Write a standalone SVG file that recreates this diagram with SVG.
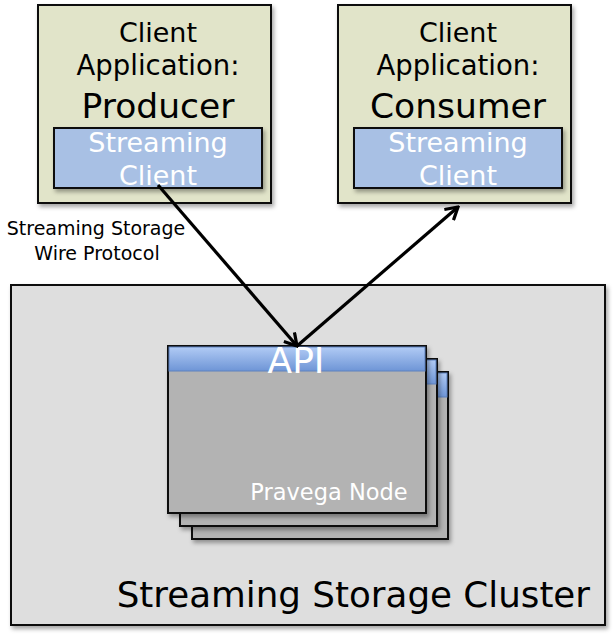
<svg xmlns="http://www.w3.org/2000/svg" width="614" height="637" viewBox="0 0 614 637">
<style>
text{font-family:"DejaVu Sans","Liberation Sans",sans-serif}
.app{fill:#e1e4c9;stroke:#111;stroke-width:2}
.sc{fill:#a8c0e4;stroke:#111;stroke-width:2}
.node{fill:#b3b3b3;stroke:#111;stroke-width:2}
.bar{fill:url(#barg);stroke:#5f82bf;stroke-width:1}
.dark{fill:#000;text-anchor:middle}
.white{fill:#fff;text-anchor:middle}
.conn{stroke:#000;stroke-width:3.2;fill:none;marker-end:url(#arr)}
</style>
<defs>
<linearGradient id="barg" x1="0" y1="0" x2="0" y2="1">
<stop offset="0" stop-color="#b1cbf5"/>
<stop offset="1" stop-color="#6e95d6"/>
</linearGradient>
<filter id="sh" x="-10%" y="-10%" width="130%" height="130%">
<feDropShadow dx="2" dy="3" stdDeviation="2" flood-color="#000" flood-opacity="0.35"/>
</filter>
<marker id="arr" markerUnits="userSpaceOnUse" viewBox="0 0 16 16" refX="14" refY="8" markerWidth="16" markerHeight="16" orient="auto">
<path d="M2,1 L14,8 L2,15" fill="none" stroke="#000" stroke-width="3.2"/>
</marker>
</defs>

<g id="cluster">
<rect x="11" y="285" width="594" height="340" fill="#dedede" stroke="#111" stroke-width="2" filter="url(#sh)"/>
<text x="590" y="607" font-size="35.7" fill="#000" text-anchor="end">Streaming Storage Cluster</text>
</g>

<g id="node3">
<rect class="node" x="192" y="372" width="256" height="167" filter="url(#sh)"/>
<rect class="bar" x="193" y="373" width="254" height="24"/>
</g>
<g id="node2">
<rect class="node" x="180" y="359" width="257" height="167" filter="url(#sh)"/>
<rect class="bar" x="181" y="360" width="255" height="24"/>
</g>
<g id="node1">
<rect class="node" x="168" y="346" width="258" height="167" filter="url(#sh)"/>
<rect class="bar" x="169" y="347" width="256" height="24"/>
<text class="white" x="296" y="373" font-size="36">API</text>
<text class="white" x="329" y="500" font-size="22.5">Pravega Node</text>
</g>

<g id="producer">
<rect class="app" x="38" y="5" width="233" height="198" filter="url(#sh)"/>
<text class="dark" x="158" y="42" font-size="27">Client</text>
<text class="dark" x="158" y="75" font-size="27.5">Application:</text>
<text class="dark" x="158" y="118" font-size="34.5">Producer</text>
<rect class="sc" x="54" y="128" width="208" height="60" filter="url(#sh)"/>
<text class="white" x="158" y="152" font-size="27">Streaming</text>
<text class="white" x="158" y="185" font-size="27">Client</text>
</g>

<g id="consumer">
<rect class="app" x="338" y="5" width="233" height="198" filter="url(#sh)"/>
<text class="dark" x="458" y="42" font-size="27">Client</text>
<text class="dark" x="458" y="75" font-size="27.5">Application:</text>
<text class="dark" x="458" y="118" font-size="34.5">Consumer</text>
<rect class="sc" x="354" y="128" width="208" height="60" filter="url(#sh)"/>
<text class="white" x="458" y="152" font-size="27">Streaming</text>
<text class="white" x="458" y="185" font-size="27">Client</text>
</g>

<g id="protocol-label">
<text class="dark" x="96" y="235" font-size="19">Streaming Storage</text>
<text class="dark" x="97" y="260" font-size="19">Wire Protocol</text>
</g>

<g id="connectors">
<line class="conn" x1="158" y1="185" x2="297" y2="346"/>
<line class="conn" x1="297" y1="346" x2="458" y2="207"/>
</g>
</svg>
